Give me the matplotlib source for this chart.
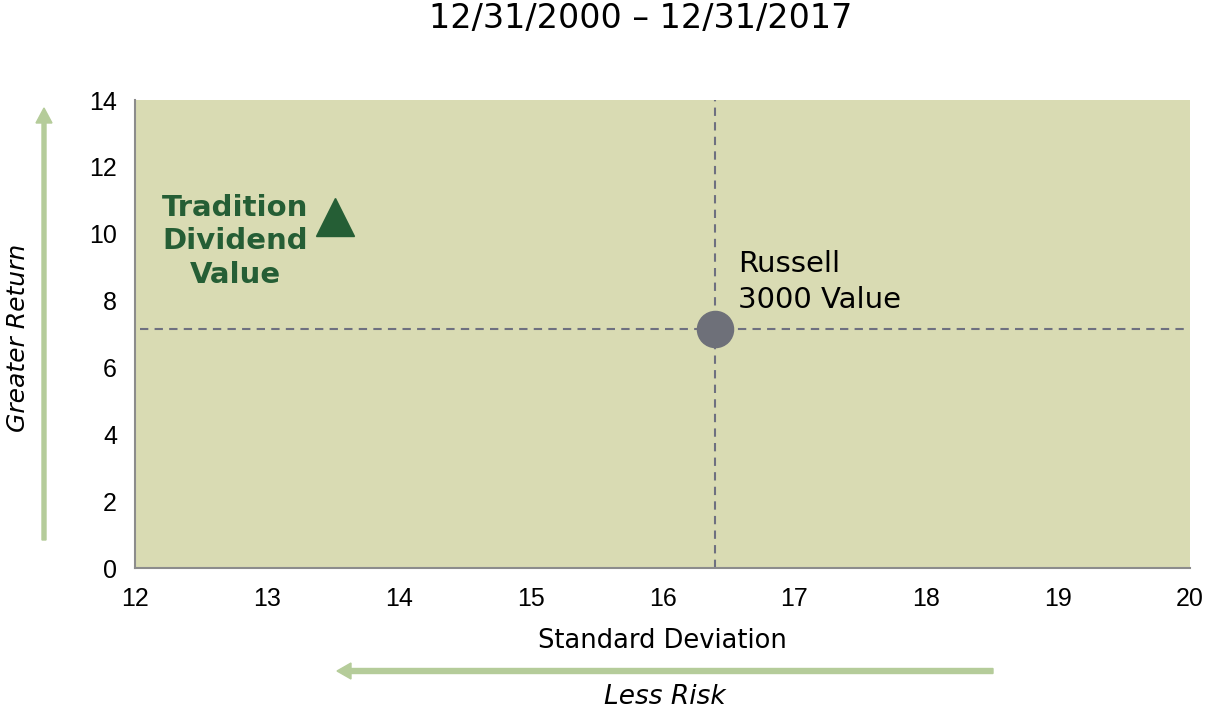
import matplotlib.pyplot as plt
from matplotlib.patches import FancyArrow

# data
names = ['Tradition\nDividend\nValue', 'Russell\n3000 Value']
std_dev = [13.52, 16.40]
returns = [10.5, 7.15]
x_ticks = [12, 13, 14, 15, 16, 17, 18, 19, 20]
y_ticks = [0, 2, 4, 6, 8, 10, 12, 14]

plt.rcParams['font.family'] = ['DejaVu Sans']

fig = plt.figure(figsize=(12.05, 7.1), dpi=100)
ax = fig.add_axes([0.112, 0.2, 0.8756, 0.659])
ax.set_facecolor('#d9dbb3')

ax.set_xlim(12, 20)
ax.set_ylim(0, 14)
ax.set_xticks(x_ticks)
ax.set_yticks(y_ticks)
ax.tick_params(length=0, labelsize=18)
ax.tick_params(axis='x', pad=14)
ax.tick_params(axis='y', pad=13)
for lab in ax.get_xticklabels() + ax.get_yticklabels():
    lab.set_family('Liberation Sans')
for s in ['top', 'right']:
    ax.spines[s].set_visible(False)
for s in ['left', 'bottom']:
    ax.spines[s].set_color('#8c8c8c')
    ax.spines[s].set_linewidth(1.5)

# benchmark cross lines
ax.axhline(returns[1], xmin=0.005, xmax=0.995, color='#6e7080', ls=(0, (4, 3)), lw=1.5)
ax.axvline(std_dev[1], color='#6e7080', ls=(0, (4, 3)), lw=1.5)

ax.plot(std_dev[0], returns[0], marker='^', ms=27, color='#255e35', ls='none')
ax.plot(std_dev[1], returns[1], marker='o', ms=26, color='#6e7079', ls='none', zorder=5)

ax.text(12.76, 9.77, names[0], ha='center', va='center', fontsize=21,
        fontweight='bold', color='#255e35', linespacing=1.26, multialignment='center')
ax.text(16.57, 8.55, names[1], ha='left', va='center', fontsize=21,
        color='black', linespacing=1.35)

ax.set_xlabel('Standard Deviation', fontsize=18.5, labelpad=12)

fig.text(0.532, 0.974, '12/31/2000 \u2013 12/31/2017', ha='center', va='center', fontsize=24)

# direction arrows
fig.patches.append(FancyArrow(
    44 / 1205, 1 - 540 / 710, 0, (540 - 108) / 710, width=4 / 1205, head_width=16 / 1205,
    head_length=15 / 710, length_includes_head=True, color='#b5cc9a', transform=fig.transFigure))
fig.patches.append(FancyArrow(
    993 / 1205, 1 - 671 / 710, -(993 - 337) / 1205, 0, width=5 / 710, head_width=16 / 710,
    head_length=14 / 1205, length_includes_head=True, color='#b5cc9a', transform=fig.transFigure))

fig.text(18 / 1205, 1 - 338 / 710, 'Greater Return', rotation=90, ha='center', va='center',
         fontsize=18, style='italic')
fig.text(665 / 1205, 1 - 697 / 710, 'Less Risk', ha='center', va='center',
         fontsize=19, style='italic')

fig.savefig('out.png')
